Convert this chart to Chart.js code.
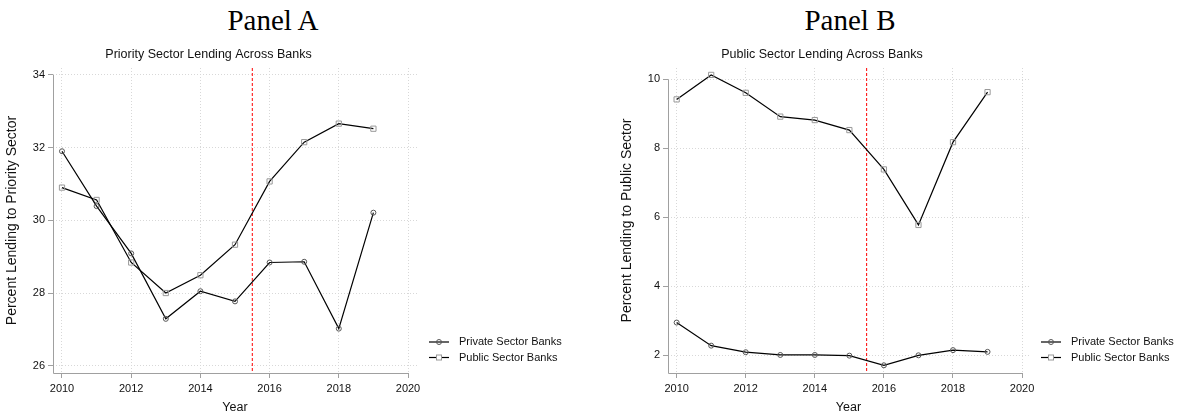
<!DOCTYPE html>
<html>
<head>
    <title>Priority and Public Sector Lending</title>
    <script src="https://cdn.jsdelivr.net/npm/chart.js"></script>
    <style>
        body { margin: 0; width: 1178px; height: 415px; background: #fff; position: relative; overflow: hidden; }
        .panel-title { position: absolute; top: 6px; width: 200px; text-align: center; font-family: "Liberation Serif", serif; font-size: 29px; line-height: 29px; color: #000; }
        .box { position: absolute; top: 35px; height: 380px; }
    </style>
</head>
<body>
    <div class="panel-title" style="left: 173px;">Panel A</div>
    <div class="panel-title" style="left: 750px;">Panel B</div>

    <div class="box" style="left: 0; width: 589px;"><canvas id="chartA"></canvas></div>
    <div class="box" style="left: 615px; width: 563px;"><canvas id="chartB"></canvas></div>

    <script>
        // Données
        const years = [2010, 2011, 2012, 2013, 2014, 2015, 2016, 2017, 2018, 2019];
        const privateA = [31.90, 30.39, 29.09, 27.29, 28.05, 27.77, 28.84, 28.86, 27.02, 30.21];
        const publicA = [30.90, 30.56, 28.84, 28.00, 28.49, 29.33, 31.07, 32.15, 32.66, 32.52];
        const privateB = [2.95, 2.28, 2.09, 2.01, 2.01, 1.99, 1.71, 2.00, 2.15, 2.10];
        const publicB = [9.42, 10.13, 9.61, 8.92, 8.82, 8.53, 7.39, 5.78, 8.18, 9.63];
        const xTicks = [2010, 2012, 2014, 2016, 2018, 2020];
        const yTicksA = [26, 28, 30, 32, 34];
        const yTicksB = [2, 4, 6, 8, 10];
        const eventYear = 2015.5;
        const seriesLabels = ['Private Sector Banks', 'Public Sector Banks'];

        const sans = '"Liberation Sans", Arial, sans-serif';

        // ligne verticale rouge + axes façon Stata
        const extrasPlugin = {
            id: 'extras',
            beforeDatasetsDraw(chart) {
                const { ctx, chartArea, scales } = chart;
                const x = scales.x.getPixelForValue(eventYear);
                ctx.save();
                ctx.strokeStyle = '#ff0000';
                ctx.lineWidth = 1;
                ctx.setLineDash([3, 2]);
                ctx.beginPath();
                ctx.moveTo(x, chartArea.top);
                ctx.lineTo(x, chartArea.bottom);
                ctx.stroke();
                ctx.restore();
            },
            afterDraw(chart) {
                const { ctx, chartArea, scales } = chart;
                const yTop = scales.y.getPixelForValue(scales.y.ticks[scales.y.ticks.length - 1].value);
                const xEnd = scales.x.getPixelForValue(scales.x.ticks[scales.x.ticks.length - 1].value);
                ctx.save();
                ctx.strokeStyle = '#a0a0a0';
                ctx.lineWidth = 1;
                ctx.beginPath();
                ctx.moveTo(chartArea.left + 0.5, yTop);
                ctx.lineTo(chartArea.left + 0.5, chartArea.bottom + 0.5);
                ctx.lineTo(xEnd, chartArea.bottom + 0.5);
                ctx.stroke();

                // légende à droite, en bas
                chart.data.datasets.forEach((ds, i) => {
                    const y = chartArea.bottom - 31 + i * 15.5;
                    const x0 = chartArea.right + 12;
                    ctx.strokeStyle = '#000';
                    ctx.lineWidth = 1.2;
                    ctx.beginPath();
                    ctx.moveTo(x0, y);
                    ctx.lineTo(x0 + 20, y);
                    ctx.stroke();
                    ctx.strokeStyle = ds.pointBorderColor;
                    ctx.lineWidth = 1;
                    ctx.fillStyle = '#fff';
                    if (ds.pointStyle === 'rect') {
                        ctx.fillRect(x0 + 7.5, y - 2.5, 5, 5);
                        ctx.strokeRect(x0 + 7.5, y - 2.5, 5, 5);
                    } else {
                        ctx.beginPath();
                        ctx.arc(x0 + 10, y, 2.5, 0, Math.PI * 2);
                        ctx.stroke();
                    }
                    ctx.fillStyle = '#111';
                    ctx.font = '11px ' + sans;
                    ctx.textBaseline = 'middle';
                    ctx.textAlign = 'left';
                    ctx.fillText(ds.label, x0 + 30, y);
                });
                ctx.restore();
            }
        };

        function makeChart(id, title, yTitle, privVals, pubVals, yTicks, yMin, yMax, xMin, xMax, padRight) {
            const toPoints = vals => years.map((y, i) => ({ x: y, y: vals[i] }));
            const ctx = document.getElementById(id).getContext('2d');
            return new Chart(ctx, {
                type: 'line',
                data: {
                    datasets: [
                        {
                            label: seriesLabels[0],
                            data: toPoints(privVals),
                            borderColor: '#000',
                            borderWidth: 1.2,
                            pointStyle: 'circle',
                            pointRadius: 2.5,
                            pointBorderColor: '#555',
                            pointBorderWidth: 1,
                            pointBackgroundColor: 'rgba(0,0,0,0)',
                            fill: false
                        },
                        {
                            label: seriesLabels[1],
                            data: toPoints(pubVals),
                            borderColor: '#000',
                            borderWidth: 1.2,
                            pointStyle: 'rect',
                            pointRadius: 3.7,
                            pointBorderColor: '#999',
                            pointBorderWidth: 1,
                            pointBackgroundColor: 'rgba(0,0,0,0)',
                            fill: false
                        }
                    ]
                },
                options: {
                    responsive: true,
                    maintainAspectRatio: false,
                    animation: false,
                    layout: { padding: { left: 0, right: padRight, top: 0, bottom: 0 } },
                    plugins: {
                        legend: { display: false },
                        tooltip: { enabled: false },
                        title: {
                            display: true,
                            text: title,
                            color: '#111',
                            font: { family: sans, size: 12.5, weight: 'normal' },
                            padding: { top: 12.5, bottom: 5.5 }
                        }
                    },
                    scales: {
                        x: {
                            type: 'linear',
                            min: xMin,
                            max: xMax,
                            afterBuildTicks: s => { s.ticks = xTicks.map(v => ({ value: v })); },
                            afterFit: s => { s.height = 42; },
                            ticks: {
                                color: '#111',
                                font: { family: sans, size: 11 },
                                padding: 4,
                                maxRotation: 0,
                                callback: v => String(v)
                            },
                            grid: { color: '#d8d8d8', tickColor: '#a0a0a0', tickLength: 5, tickBorderDash: [] },
                            border: { display: false, dash: [1, 2] },
                            title: {
                                display: true,
                                text: 'Year',
                                color: '#111',
                                font: { family: sans, size: 12.5 },
                                padding: { top: 0, bottom: 0 }
                            }
                        },
                        y: {
                            type: 'linear',
                            min: yMin,
                            max: yMax,
                            afterBuildTicks: s => { s.ticks = yTicks.map(v => ({ value: v })); },
                            afterFit: s => { s.width = 53; },
                            ticks: {
                                color: '#111',
                                font: { family: sans, size: 11 },
                                padding: 3,
                                callback: v => String(v)
                            },
                            grid: { color: '#d8d8d8', tickColor: '#a0a0a0', tickLength: 5, tickBorderDash: [] },
                            border: { display: false, dash: [1, 2] },
                            title: {
                                display: true,
                                text: yTitle,
                                color: '#111',
                                font: { family: sans, size: 14 },
                                padding: { top: 3.5, bottom: 0 }
                            }
                        }
                    }
                },
                plugins: [extrasPlugin]
            });
        }

        makeChart('chartA', 'Priority Sector Lending Across Banks', 'Percent Lending to Priority Sector',
            privateA, publicA, yTicksA, 25.8, 34.19, 2009.74, 2020.26, 172);
        makeChart('chartB', 'Public Sector Lending Across Banks', 'Percent Lending to Public Sector',
            privateB, publicB, yTicksB, 1.487, 10.33, 2009.75, 2020.2, 149);
    </script>
</body>
</html>
